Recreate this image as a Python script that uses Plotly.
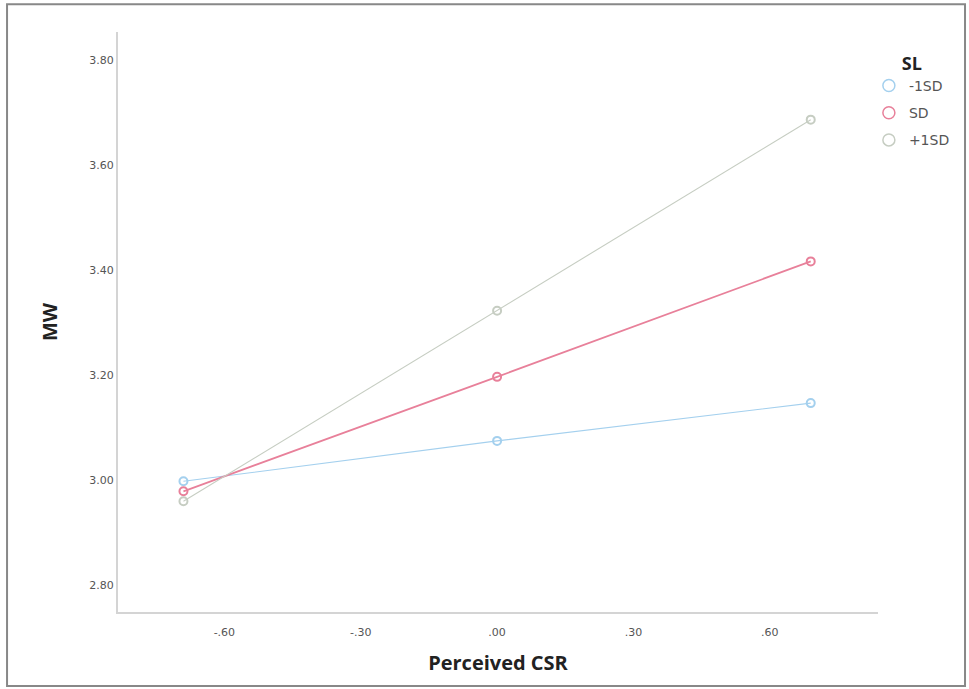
import plotly.graph_objects as go

# Data
csr_levels = [-0.69, 0.0, 0.69]
series_names = ["-1SD", "SD", "+1SD"]
mw_minus1sd = [2.998, 3.075, 3.147]
mw_sd = [2.979, 3.197, 3.417]
mw_plus1sd = [2.960, 3.323, 3.687]
x_tick_vals = [-0.60, -0.30, 0.00, 0.30, 0.60]
x_tick_text = ["-.60", "-.30", ".00", ".30", ".60"]
y_tick_vals = [2.80, 3.00, 3.20, 3.40, 3.60, 3.80]
y_tick_text = ["2.80", "3.00", "3.20", "3.40", "3.60", "3.80"]

colors = ["#a4d0ee", "#e8809a", "#c6cdc2"]
widths = [1.1, 1.8, 1.1]
values = [mw_minus1sd, mw_sd, mw_plus1sd]

fig = go.Figure()
for i, (name, vals, c, w) in enumerate(zip(series_names, values, colors, widths)):
    fig.add_trace(go.Scatter(
        x=csr_levels, y=vals, name=name, mode="lines+markers",
        line=dict(color=c, width=w), showlegend=False, legendgroup=name,
        marker=dict(symbol="circle-open", size=8, color=c, line=dict(width=2)),
    ))
    # legend entry showing only the open circle
    fig.add_trace(go.Scatter(
        x=[None], y=[None], name=name, mode="markers", legendgroup=name,
        marker=dict(symbol="circle-open", size=12, color=c, line=dict(width=1.5)),
    ))

fig.update_layout(
    width=969, height=689,
    margin=dict(l=118, r=91, t=32, b=77),
    paper_bgcolor="white", plot_bgcolor="white",
    font=dict(family="DejaVu Sans", color="#333"),
    showlegend=True,
    legend=dict(
        title=dict(text="<b>SL</b>", font=dict(size=18, color="#222", family="Open Sans"), side="top center"),
        x=0.988, xanchor="left", y=0.975, yanchor="top",
        font=dict(size=14, color="#555", family="DejaVu Sans"),
        itemwidth=30, tracegroupgap=6,
        bgcolor="rgba(0,0,0,0)",
    ),
    xaxis=dict(
        range=[-0.834, 0.838], tickvals=x_tick_vals, ticktext=x_tick_text,
        showgrid=False, zeroline=False, showline=True, linecolor="#d4d4d4", linewidth=2,
        ticks="", ticklabelstandoff=9, tickfont=dict(size=11, color="#555"),
        title=dict(text="<b>Perceived CSR</b>", font=dict(size=20, color="#222", family="Open Sans"), standoff=18),
    ),
    yaxis=dict(
        range=[2.749, 3.854], tickvals=y_tick_vals, ticktext=y_tick_text,
        showgrid=False, zeroline=False, showline=True, linecolor="#d4d4d4", linewidth=2,
        ticks="", tickfont=dict(size=11, color="#555"),
        title=dict(text="<b>MW</b>", font=dict(size=20, color="#222", family="Open Sans"), standoff=26),
    ),
    shapes=[dict(type="rect", xref="paper", yref="paper",
                 x0=-0.146, x1=1.1145, y0=-0.1276, y1=1.048,
                 line=dict(color="#888", width=2), fillcolor="rgba(0,0,0,0)")],
)

fig.write_html("out.html", config={"displayModeBar": False},
               post_script="document.body.style.margin='0';")
